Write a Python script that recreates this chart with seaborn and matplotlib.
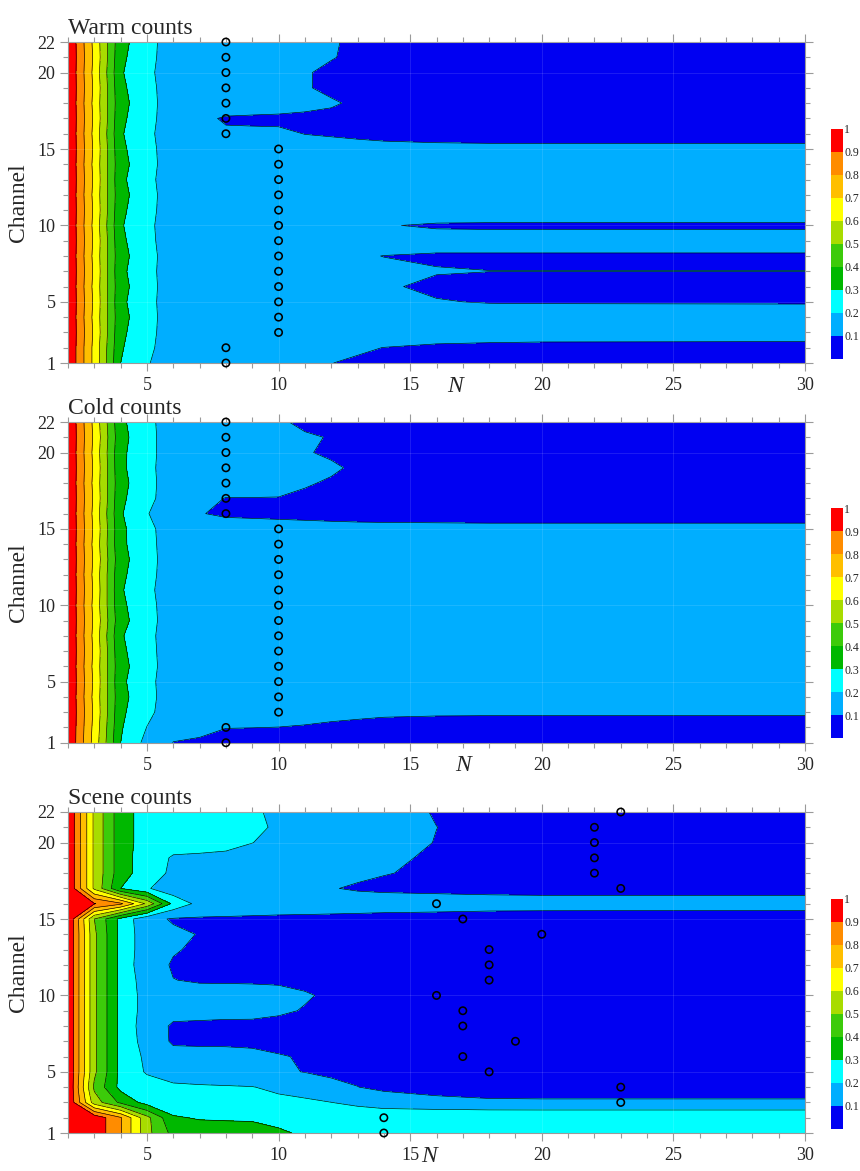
import matplotlib
matplotlib.use("Agg")
import matplotlib.pyplot as plt
from matplotlib.colors import ListedColormap, BoundaryNorm
from matplotlib.ticker import FixedLocator, FixedFormatter, MultipleLocator, NullLocator
import numpy as np
import pandas as pd
import seaborn as sns

# ---------------------------------------------------------------- data
N_COLS = [2, 3, 4, 5, 6, 7, 8, 9, 10, 11, 12, 13, 14, 16, 18, 20, 30]
CHANNELS = list(range(1, 23))

LEVELS = [0.0, 0.1, 0.2, 0.3, 0.4, 0.5, 0.6, 0.7, 0.8, 0.9, 1.0]
LEVEL_COLORS = ["#0000F2", "#00AEFF", "#00FFFF", "#00B800", "#3CCB0A",
                "#A8DC00", "#FFFF00", "#FFBF00", "#FF8C00", "#FF0000"]
COLORBAR_LABELS = ["0.1", "0.2", "0.3", "0.4", "0.5", "0.6", "0.7", "0.8", "0.9", "1"]

TITLES = ["Warm counts", "Cold counts", "Scene counts"]

# rows: channel 1 .. 22, columns: N_COLS
WARM = [
    [1.00, 0.67, 0.30, 0.21, 0.13, 0.13, 0.125, 0.122, 0.118, 0.11, 0.101, 0.09, 0.085, 0.078, 0.074, 0.072, 0.070],
    [1.00, 0.67, 0.31, 0.225, 0.14, 0.135, 0.13, 0.126, 0.122, 0.118, 0.115, 0.11, 0.099, 0.085, 0.078, 0.073, 0.070],
    [1.00, 0.68, 0.32, 0.235, 0.14, 0.14, 0.14, 0.14, 0.14, 0.14, 0.14, 0.14, 0.14, 0.145, 0.145, 0.145, 0.145],
    [1.00, 0.67, 0.33, 0.24, 0.14, 0.135, 0.135, 0.13, 0.13, 0.13, 0.13, 0.13, 0.13, 0.13, 0.13, 0.13, 0.13],
    [1.00, 0.68, 0.32, 0.235, 0.14, 0.135, 0.135, 0.13, 0.125, 0.12, 0.118, 0.115, 0.112, 0.103, 0.097, 0.096, 0.095],
    [1.00, 0.67, 0.33, 0.24, 0.14, 0.135, 0.135, 0.13, 0.125, 0.12, 0.117, 0.113, 0.106, 0.09, 0.087, 0.086, 0.085],
    [1.00, 0.68, 0.32, 0.235, 0.14, 0.135, 0.135, 0.13, 0.125, 0.12, 0.118, 0.116, 0.113, 0.103, 0.1004, 0.1003, 0.1003],
    [1.00, 0.67, 0.33, 0.24, 0.14, 0.135, 0.135, 0.13, 0.125, 0.12, 0.115, 0.107, 0.099, 0.093, 0.093, 0.093, 0.093],
    [1.00, 0.68, 0.32, 0.23, 0.14, 0.135, 0.135, 0.13, 0.13, 0.13, 0.13, 0.13, 0.13, 0.128, 0.128, 0.128, 0.128],
    [1.00, 0.67, 0.31, 0.225, 0.14, 0.135, 0.135, 0.13, 0.125, 0.12, 0.117, 0.112, 0.104, 0.092, 0.09, 0.09, 0.09],
    [1.00, 0.68, 0.32, 0.235, 0.14, 0.135, 0.135, 0.13, 0.13, 0.135, 0.14, 0.14, 0.14, 0.145, 0.145, 0.145, 0.145],
    [1.00, 0.67, 0.33, 0.24, 0.14, 0.135, 0.135, 0.13, 0.13, 0.13, 0.13, 0.13, 0.13, 0.13, 0.13, 0.13, 0.13],
    [1.00, 0.68, 0.32, 0.23, 0.14, 0.135, 0.135, 0.13, 0.13, 0.13, 0.13, 0.13, 0.13, 0.13, 0.13, 0.13, 0.13],
    [1.00, 0.67, 0.33, 0.24, 0.14, 0.135, 0.135, 0.13, 0.13, 0.13, 0.13, 0.13, 0.13, 0.13, 0.13, 0.13, 0.13],
    [1.00, 0.68, 0.32, 0.235, 0.14, 0.135, 0.135, 0.13, 0.125, 0.122, 0.12, 0.118, 0.116, 0.114, 0.113, 0.113, 0.113],
    [1.00, 0.67, 0.31, 0.225, 0.14, 0.13, 0.109, 0.11, 0.11, 0.099, 0.095, 0.09, 0.085, 0.08, 0.078, 0.078, 0.078],
    [1.00, 0.68, 0.32, 0.235, 0.14, 0.115, 0.093, 0.09, 0.088, 0.085, 0.082, 0.08, 0.078, 0.075, 0.072, 0.07, 0.07],
    [1.00, 0.67, 0.33, 0.24, 0.14, 0.14, 0.14, 0.135, 0.13, 0.12, 0.108, 0.088, 0.08, 0.075, 0.072, 0.07, 0.07],
    [1.00, 0.68, 0.32, 0.235, 0.14, 0.14, 0.135, 0.13, 0.125, 0.106, 0.085, 0.08, 0.078, 0.075, 0.072, 0.07, 0.07],
    [1.00, 0.67, 0.31, 0.225, 0.14, 0.14, 0.135, 0.13, 0.125, 0.106, 0.085, 0.08, 0.078, 0.075, 0.072, 0.07, 0.07],
    [1.00, 0.68, 0.32, 0.235, 0.14, 0.14, 0.135, 0.13, 0.125, 0.12, 0.104, 0.085, 0.08, 0.075, 0.072, 0.07, 0.07],
    [1.00, 0.67, 0.33, 0.24, 0.14, 0.14, 0.135, 0.13, 0.125, 0.12, 0.105, 0.09, 0.08, 0.075, 0.072, 0.07, 0.07],
]

COLD = [
    [1.00, 0.66, 0.30, 0.17, 0.098, 0.092, 0.085, 0.082, 0.08, 0.078, 0.076, 0.075, 0.074, 0.072, 0.07, 0.07, 0.07],
    [1.00, 0.67, 0.31, 0.198, 0.13, 0.115, 0.101, 0.1005, 0.0995, 0.097, 0.094, 0.091, 0.088, 0.085, 0.083, 0.082, 0.082],
    [1.00, 0.68, 0.32, 0.225, 0.14, 0.135, 0.13, 0.125, 0.12, 0.115, 0.11, 0.108, 0.106, 0.105, 0.105, 0.105, 0.105],
    [1.00, 0.67, 0.33, 0.235, 0.14, 0.135, 0.13, 0.13, 0.13, 0.13, 0.13, 0.13, 0.13, 0.13, 0.13, 0.13, 0.13],
    [1.00, 0.68, 0.32, 0.23, 0.14, 0.135, 0.13, 0.13, 0.13, 0.13, 0.13, 0.13, 0.13, 0.13, 0.13, 0.13, 0.13],
    [1.00, 0.67, 0.33, 0.24, 0.14, 0.135, 0.13, 0.13, 0.13, 0.13, 0.13, 0.13, 0.13, 0.13, 0.13, 0.13, 0.13],
    [1.00, 0.68, 0.32, 0.235, 0.14, 0.135, 0.13, 0.13, 0.13, 0.13, 0.13, 0.13, 0.13, 0.13, 0.13, 0.13, 0.13],
    [1.00, 0.67, 0.31, 0.23, 0.14, 0.135, 0.13, 0.13, 0.13, 0.13, 0.13, 0.13, 0.13, 0.13, 0.13, 0.13, 0.13],
    [1.00, 0.68, 0.33, 0.24, 0.14, 0.135, 0.13, 0.13, 0.13, 0.13, 0.13, 0.13, 0.13, 0.13, 0.13, 0.13, 0.13],
    [1.00, 0.67, 0.32, 0.235, 0.14, 0.135, 0.13, 0.13, 0.13, 0.13, 0.13, 0.13, 0.13, 0.13, 0.13, 0.13, 0.13],
    [1.00, 0.68, 0.31, 0.225, 0.14, 0.135, 0.13, 0.13, 0.13, 0.13, 0.13, 0.13, 0.13, 0.13, 0.13, 0.13, 0.13],
    [1.00, 0.67, 0.32, 0.235, 0.14, 0.135, 0.13, 0.13, 0.13, 0.13, 0.13, 0.13, 0.13, 0.13, 0.13, 0.13, 0.13],
    [1.00, 0.68, 0.33, 0.24, 0.14, 0.135, 0.13, 0.13, 0.13, 0.13, 0.13, 0.13, 0.13, 0.13, 0.13, 0.13, 0.13],
    [1.00, 0.67, 0.32, 0.235, 0.14, 0.135, 0.13, 0.13, 0.13, 0.13, 0.13, 0.13, 0.13, 0.13, 0.13, 0.13, 0.13],
    [1.00, 0.68, 0.32, 0.23, 0.14, 0.135, 0.13, 0.127, 0.125, 0.122, 0.12, 0.118, 0.117, 0.116, 0.115, 0.115, 0.115],
    [1.00, 0.67, 0.31, 0.205, 0.14, 0.103, 0.09, 0.088, 0.085, 0.083, 0.08, 0.078, 0.077, 0.076, 0.075, 0.075, 0.075],
    [1.00, 0.68, 0.32, 0.23, 0.14, 0.12, 0.098, 0.098, 0.097, 0.09, 0.085, 0.082, 0.08, 0.077, 0.075, 0.073, 0.072],
    [1.00, 0.67, 0.33, 0.235, 0.14, 0.135, 0.135, 0.133, 0.13, 0.105, 0.094, 0.088, 0.085, 0.08, 0.077, 0.075, 0.073],
    [1.00, 0.68, 0.32, 0.23, 0.14, 0.135, 0.135, 0.133, 0.13, 0.12, 0.108, 0.091, 0.085, 0.08, 0.077, 0.075, 0.073],
    [1.00, 0.67, 0.32, 0.235, 0.14, 0.135, 0.135, 0.133, 0.13, 0.104, 0.092, 0.088, 0.085, 0.08, 0.077, 0.075, 0.073],
    [1.00, 0.68, 0.33, 0.235, 0.14, 0.135, 0.135, 0.133, 0.13, 0.107, 0.097, 0.09, 0.085, 0.08, 0.077, 0.075, 0.073],
    [1.00, 0.67, 0.32, 0.23, 0.14, 0.135, 0.135, 0.133, 0.108, 0.088, 0.085, 0.082, 0.08, 0.077, 0.075, 0.073, 0.072],
]

SCENE = [
    [1.00, 0.97, 0.81, 0.53, 0.37, 0.35, 0.34, 0.33, 0.305, 0.295, 0.293, 0.292, 0.291, 0.29, 0.29, 0.29, 0.29],
    [1.00, 0.97, 0.81, 0.53, 0.31, 0.292, 0.29, 0.29, 0.29, 0.29, 0.29, 0.29, 0.29, 0.29, 0.29, 0.29, 0.29],
    [1.00, 0.55, 0.38, 0.26, 0.24, 0.235, 0.23, 0.228, 0.225, 0.22, 0.201, 0.17, 0.14, 0.125, 0.114, 0.112, 0.112],
    [1.00, 0.48, 0.27, 0.245, 0.215, 0.21, 0.207, 0.203, 0.18, 0.15, 0.115, 0.101, 0.085, 0.068, 0.06, 0.06, 0.06],
    [1.00, 0.52, 0.27, 0.19, 0.16, 0.15, 0.14, 0.125, 0.11, 0.098, 0.09, 0.085, 0.08, 0.075, 0.07, 0.07, 0.07],
    [1.00, 0.52, 0.27, 0.18, 0.13, 0.128, 0.127, 0.118, 0.104, 0.095, 0.09, 0.085, 0.08, 0.075, 0.07, 0.07, 0.07],
    [1.00, 0.52, 0.27, 0.16, 0.088, 0.086, 0.085, 0.085, 0.082, 0.08, 0.078, 0.075, 0.072, 0.068, 0.065, 0.065, 0.065],
    [1.00, 0.52, 0.27, 0.15, 0.088, 0.086, 0.085, 0.088, 0.09, 0.092, 0.092, 0.09, 0.085, 0.078, 0.072, 0.07, 0.07],
    [1.00, 0.52, 0.27, 0.16, 0.13, 0.125, 0.12, 0.115, 0.105, 0.098, 0.092, 0.088, 0.085, 0.078, 0.072, 0.07, 0.07],
    [1.00, 0.52, 0.27, 0.16, 0.125, 0.12, 0.118, 0.115, 0.11, 0.103, 0.095, 0.09, 0.085, 0.078, 0.072, 0.07, 0.07],
    [1.00, 0.52, 0.27, 0.15, 0.101, 0.095, 0.095, 0.095, 0.095, 0.092, 0.088, 0.085, 0.08, 0.075, 0.07, 0.068, 0.068],
    [1.00, 0.52, 0.27, 0.13, 0.094, 0.09, 0.088, 0.087, 0.086, 0.085, 0.083, 0.08, 0.078, 0.072, 0.068, 0.065, 0.065],
    [1.00, 0.52, 0.27, 0.14, 0.105, 0.09, 0.088, 0.087, 0.086, 0.085, 0.083, 0.08, 0.078, 0.072, 0.068, 0.065, 0.065],
    [1.00, 0.52, 0.27, 0.14, 0.115, 0.097, 0.09, 0.088, 0.086, 0.085, 0.083, 0.08, 0.078, 0.072, 0.068, 0.065, 0.065],
    [1.00, 0.50, 0.27, 0.127, 0.0915, 0.09, 0.088, 0.085, 0.082, 0.08, 0.078, 0.075, 0.072, 0.068, 0.062, 0.06, 0.058],
    [1.00, 0.905, 0.82, 0.58, 0.27, 0.17, 0.16, 0.155, 0.15, 0.148, 0.145, 0.143, 0.14, 0.138, 0.135, 0.134, 0.134],
    [1.00, 0.58, 0.30, 0.21, 0.14, 0.13, 0.125, 0.12, 0.115, 0.11, 0.104, 0.091, 0.085, 0.08, 0.075, 0.072, 0.07],
    [1.00, 0.58, 0.34, 0.25, 0.18, 0.175, 0.17, 0.165, 0.16, 0.15, 0.13, 0.115, 0.103, 0.088, 0.08, 0.075, 0.072],
    [1.00, 0.58, 0.34, 0.25, 0.19, 0.185, 0.18, 0.175, 0.17, 0.16, 0.145, 0.125, 0.108, 0.094, 0.085, 0.08, 0.075],
    [1.00, 0.58, 0.34, 0.26, 0.24, 0.235, 0.225, 0.201, 0.18, 0.165, 0.15, 0.13, 0.112, 0.099, 0.09, 0.085, 0.08],
    [1.00, 0.58, 0.34, 0.26, 0.245, 0.24, 0.23, 0.215, 0.19, 0.17, 0.15, 0.13, 0.113, 0.1002, 0.092, 0.087, 0.082],
    [1.00, 0.58, 0.34, 0.26, 0.245, 0.24, 0.23, 0.207, 0.19, 0.17, 0.15, 0.13, 0.112, 0.098, 0.09, 0.085, 0.08],
]

# selected N for each channel (1 .. 22)
WARM_SELECTED = [8, 8, 10, 10, 10, 10, 10, 10, 10, 10, 10, 10, 10, 10, 10, 8, 8, 8, 8, 8, 8, 8]
COLD_SELECTED = [8, 8, 10, 10, 10, 10, 10, 10, 10, 10, 10, 10, 10, 10, 10, 8, 8, 8, 8, 8, 8, 8]
SCENE_SELECTED = [14, 14, 23, 23, 18, 17, 19, 17, 17, 16, 18, 18, 18, 20, 17, 16, 23, 22, 22, 22, 22, 23]

X_MAJOR = [5, 10, 15, 20, 25, 30]
Y_MAJOR = [1, 5, 10, 15, 20, 22]

# ---------------------------------------------------------------- layout (pixels)
FIG_W, FIG_H = 860, 1171
AX_LEFT, AX_RIGHT = 68, 805
AX_TOPS = [42, 422, 812]
AX_BOTTOMS = [363, 742.7, 1133]
CB_LEFT, CB_WIDTH, CB_HEIGHT = 831, 12, 230
XLABEL_AT = [16.7, 17.0, 15.7]

sns.set_theme(style="ticks")
plt.rcParams["font.family"] = ["Liberation Serif", "DejaVu Serif"]

frame_color = "#9a9a9a"

fig = plt.figure(figsize=(FIG_W / 100, FIG_H / 100), dpi=100)


def px_rect(left, top, right, bottom):
    return [left / FIG_W, 1 - bottom / FIG_H, (right - left) / FIG_W, (bottom - top) / FIG_H]


def draw_panel(ax, cax, grid, selected, title, xlabel_at):
    # every panel gets its own colour mapping so its colorbar keeps its labels
    cmap = ListedColormap(LEVEL_COLORS)
    norm = BoundaryNorm(LEVELS, cmap.N)

    table = pd.DataFrame(grid, index=CHANNELS, columns=N_COLS)
    xs = np.array(table.columns, dtype=float)
    ys = np.array(table.index, dtype=float)
    zs = table.values

    cf = ax.contourf(xs, ys, zs, levels=LEVELS, cmap=cmap, norm=norm)
    ax.contour(xs, ys, zs, levels=LEVELS[1:-1], colors="black", linewidths=0.45)

    marks = pd.DataFrame({"N": selected, "Channel": CHANNELS})
    sns.scatterplot(data=marks, x="N", y="Channel", ax=ax, marker="o", s=28,
                    facecolor="none", edgecolor="black", linewidth=1.15,
                    zorder=6, clip_on=False, legend=False)

    ax.set_xlim(2, 30)
    ax.set_ylim(1, 22)
    ax.xaxis.set_major_locator(FixedLocator(X_MAJOR))
    ax.xaxis.set_minor_locator(MultipleLocator(1))
    ax.yaxis.set_major_locator(FixedLocator(Y_MAJOR))
    ax.yaxis.set_minor_locator(MultipleLocator(1))
    ax.tick_params(which="both", direction="out", top=True, right=True,
                   color=frame_color, width=0.8, labelsize=13, pad=4)
    ax.tick_params(which="major", length=6)
    ax.tick_params(which="minor", length=3.5)
    ax.tick_params(axis="y", pad=3)
    for side in ax.spines.values():
        side.set_color(frame_color)
        side.set_linewidth(0.8)
    ax.grid(True, which="major", color="white", alpha=0.13, linewidth=0.6)
    ax.set_axisbelow(False)

    ax.set_xlabel("")
    ax.set_ylabel("Channel", fontsize=17, labelpad=6)
    ax.annotate("N", xy=(xlabel_at, 0), xycoords=("data", "axes fraction"),
                xytext=(0, -9), textcoords="offset points", ha="center", va="top",
                fontsize=17, fontstyle="italic", annotation_clip=False)
    ax.set_title(title, loc="left", fontsize=17, pad=6)

    cb = fig.colorbar(cf, cax=cax)
    cb.outline.set_visible(False)
    cax.yaxis.set_major_locator(FixedLocator(LEVELS[1:]))
    cax.yaxis.set_major_formatter(FixedFormatter(COLORBAR_LABELS))
    cax.yaxis.set_minor_locator(NullLocator())
    cax.tick_params(which="both", length=0, labelsize=8.5, pad=1)


grids = [WARM, COLD, SCENE]
selections = [WARM_SELECTED, COLD_SELECTED, SCENE_SELECTED]
for i in range(3):
    ax = fig.add_axes(px_rect(AX_LEFT, AX_TOPS[i], AX_RIGHT, AX_BOTTOMS[i]))
    cb_bottom = AX_BOTTOMS[i] - 4.5
    cax = fig.add_axes(px_rect(CB_LEFT, cb_bottom - CB_HEIGHT, CB_LEFT + CB_WIDTH, cb_bottom))
    draw_panel(ax, cax, grids[i], selections[i], TITLES[i], XLABEL_AT[i])

fig.savefig("out.png", dpi=100)
